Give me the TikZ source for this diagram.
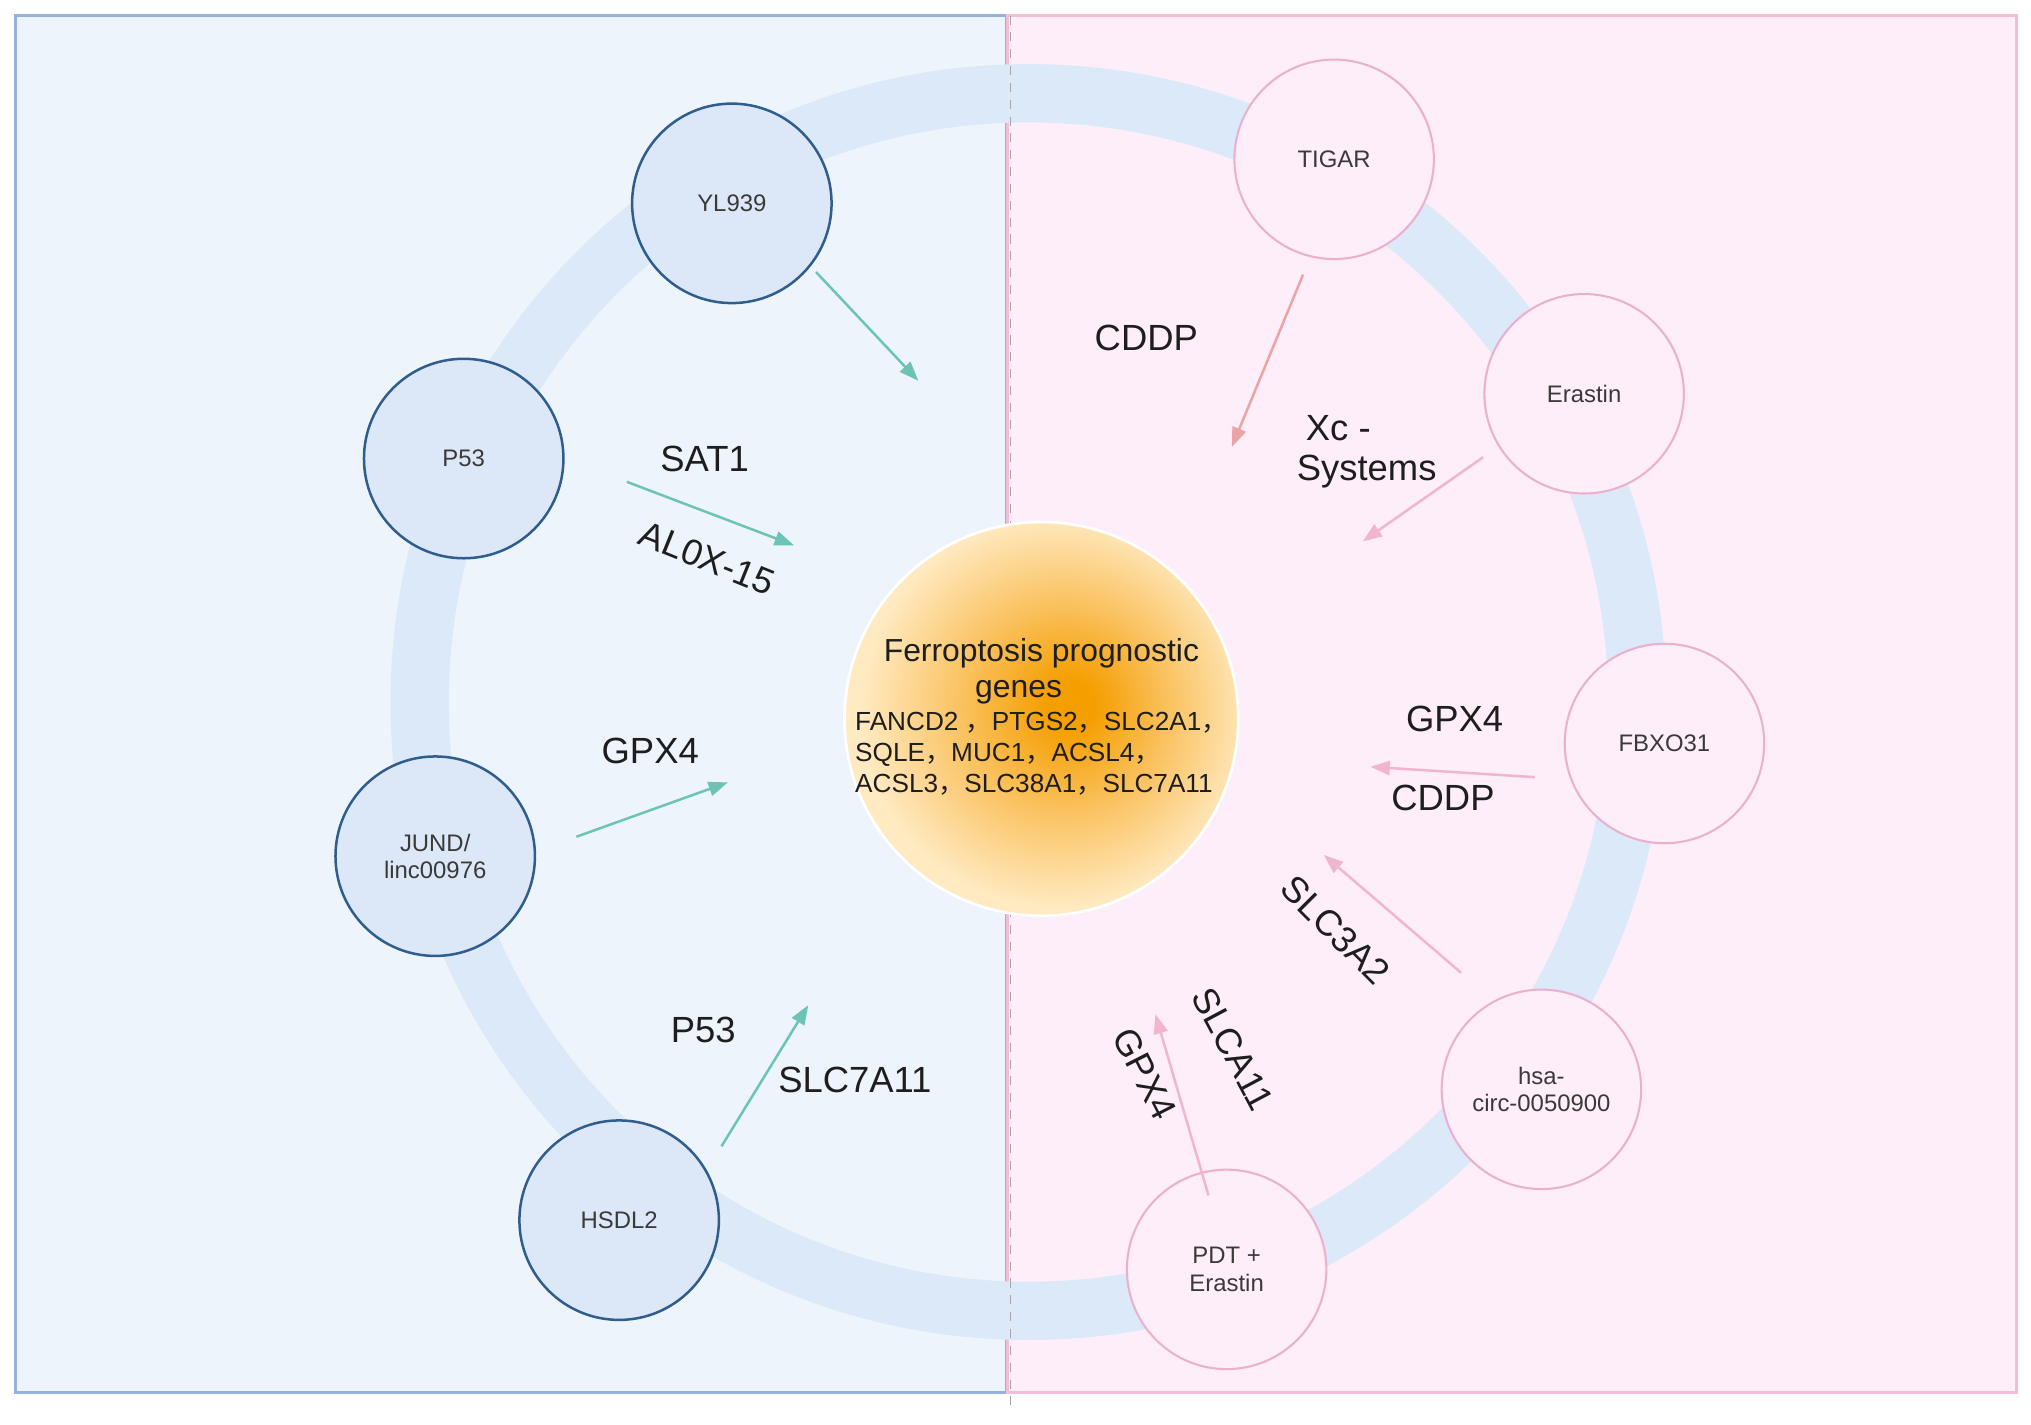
\documentclass[tikz,border=0pt]{standalone}
\usepackage{fontspec}
\setmainfont{Liberation Sans}
\newfontfamily\cjk{Noto Sans CJK SC}
\usetikzlibrary{arrows.meta,calc}

\definecolor{leftbg}{HTML}{EEF4FC}
\definecolor{rightbg}{HTML}{FDEEF9}
\definecolor{leftedge}{HTML}{97B1DD}
\definecolor{rightedge}{HTML}{F2BDD6}
\definecolor{ringblue}{HTML}{DCE9F8}
\definecolor{cellblue}{HTML}{DCE8F7}
\definecolor{cellline}{HTML}{2F5E8E}
\definecolor{cellpink}{HTML}{EAB0CC}
\definecolor{tealarrow}{HTML}{6CC4B4}
\definecolor{pinkarrow}{HTML}{F1B5D1}
\definecolor{salmonarrow}{HTML}{EBA4A6}
\definecolor{nodetext}{HTML}{3A3A3A}
\definecolor{tagtext}{HTML}{1E1E1E}
\definecolor{coreA}{HTML}{F59E00}
\definecolor{coreB}{HTML}{FAC15E}
\definecolor{coreC}{HTML}{FFEAC2}

\pgfdeclareradialshading{coreglow}{\pgfpoint{4bp}{2bp}}{color(0bp)=(coreA); color(3bp)=(coreA); color(13bp)=(coreB); color(25bp)=(coreC); color(50bp)=(coreC)}

\newcommand{\zh}{{\cjk ，}}

\tikzset{
          panel/.style = {fill = #1, line width = 1.2pt},
          ring/.style = {draw = ringblue, line width = 9mm},
          divider/.style = {draw = black!35, line width = 0.7pt, dash pattern = on 1.4mm off 1.2mm},
          hub/.style = {circle, minimum size = 30.8mm, inner sep = 0mm, outer sep = 0mm, align = center, text = nodetext, font = \fontsize{10.5}{12}\selectfont},
          leftcell/.style = {hub, fill = cellblue, draw = cellline, line width = 1.1pt},
          rightcell/.style = {hub, fill = rightbg, draw = cellpink, line width = 0.9pt},
          core/.style = {circle, minimum size = 60.8mm, inner sep = -3mm, draw = white, line width = 1.2pt, shading = coreglow, align = center, text = tagtext, font = \fontsize{11.5}{13}\selectfont},
          link/.style = {draw = #1, line width = 1.1pt, -{Triangle[length = 3mm, width = 2.2mm]}},
          tag/.style = {text = tagtext, font = \fontsize{16}{17.5}\selectfont, anchor = center}
        }

\begin{document}
\begin{tikzpicture}[x=0.2mm,y=-0.2mm]
          \useasboundingbox[fill = white] (0,0) rectangle (1568,1099.4);

          \draw[panel = leftbg, draw = leftedge]   (12,12) rectangle (777,1075);
          \draw[panel = rightbg, draw = rightedge] (778,12) rectangle (1557,1075);

          \draw[ring] (794,542) circle[radius = 94mm];
          \draw[divider] (780,12) -- (780,1089);

          % drugs and genes round the ring
          \node[leftcell] (yl)   at (565,157) {YL939};
          \node[leftcell] (p53)  at (358,354) {P53};
          \node[leftcell] (jund) at (336,661) {JUND/\\linc00976};
          \node[leftcell] (hsdl) at (478,942) {HSDL2};

          \node[rightcell] (tigar)   at (1030,123) {TIGAR};
          \node[rightcell] (erastin) at (1223,304) {Erastin};
          \node[rightcell] (fbxo)    at (1285,574) {FBXO31};
          \node[rightcell] (hsa)     at (1190,841) {hsa-\\circ-0050900};
          \node[rightcell] (pdt)     at (947,980)  {PDT +\\Erastin};

          \node[core] (core) at (804,555) {%
            {\fontsize{14}{16}\selectfont\begin{tabular}{@{}c@{}}Ferroptosis prognostic\\genes\hspace*{20pt}\end{tabular}}\\[-1pt]
            {\fontsize{11.5}{13.6}\selectfont\begin{tabular}{@{}l@{}}
              FANCD2 \zh PTGS2\zh SLC2A1\zh\\
              SQLE\zh MUC1\zh ACSL4\zh\\
              ACSL3\zh SLC38A1\zh SLC7A11
            \end{tabular}}};

          \draw[link = tealarrow] ($(yl)+(65,53)$)    -- ++(79,84);
          \draw[link = tealarrow] ($(p53)+(126,18)$)  -- ++(129,49);
          \draw[link = tealarrow] ($(jund)+(109,-15)$) -- ++(117,-42);
          \draw[link = tealarrow] ($(hsdl)+(79,-57)$) -- ++(67,-109);

          \draw[link = salmonarrow] ($(tigar)+(-24,89)$)  -- ++(-55,133);
          \draw[link = pinkarrow] ($(erastin)+(-78,49)$)  -- ++(-93,65);
          \draw[link = pinkarrow] ($(fbxo)+(-100,26)$)    -- ++(-127,-8);
          \draw[link = pinkarrow] ($(hsa)+(-62,-90)$)     -- ++(-106,-91);
          \draw[link = pinkarrow] ($(pdt)+(-14,-57)$)     -- ++(-41,-140);

          \node[tag] (sat)  at (544,354) {SAT1};
          \node[tag, rotate = -22] (alox) at (546,431) {AL0X-15};
          \node[tag] (gpxa) at (502,580) {GPX4};
          \node[tag] (p53b) at (543,795) {P53};
          \node[tag] (slc7) at (660,834) {SLC7A11};

          \node[tag] (cddpa) at (885,261) {CDDP};
          \node[tag, align = left, anchor = west] (xc) at (995,349) {\hspace*{1.4mm}Xc -\\Systems};
          \node[tag] (gpxb)  at (1123,555) {GPX4};
          \node[tag] (cddpb) at (1114,616) {CDDP};
          \node[tag, rotate = -45] (slc3) at (1031,718) {SLC3A2};
          \node[tag, rotate = -62] (slca) at (952,810) {SLCA11};
          \node[tag, rotate = -63] (gpxc) at (884,829) {GPX4};
        \end{tikzpicture}
\end{document}
